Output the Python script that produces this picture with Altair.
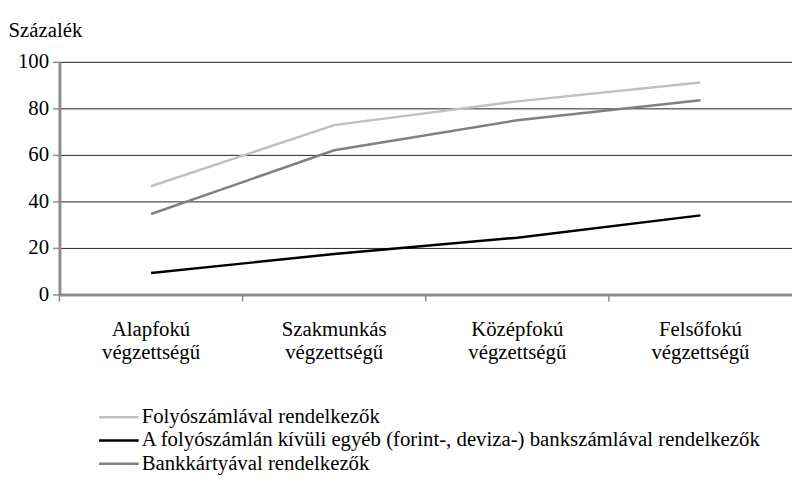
import altair as alt
import pandas as pd

categories = ["Alapfokú végzettségű", "Szakmunkás végzettségű", "Középfokú végzettségű", "Felsőfokú végzettségű"]
series = [
    "Folyószámlával rendelkezők",
    "A folyószámlán kívüli egyéb (forint-, deviza-) bankszámlával rendelkezők",
    "Bankkártyával rendelkezők",
]
folyoszamla = [46.5, 72.8, 83.0, 91.1]
egyeb = [9.2, 17.4, 24.4, 34.0]
bankkartya = [34.6, 62.0, 74.9, 83.5]
colors = ["#c0c0c0", "#000000", "#808080"]

rows = []
for s, vals in zip(series, [folyoszamla, egyeb, bankkartya]):
    for c, v in zip(categories, vals):
        rows.append({"cat": c, "series": s, "value": v})
df = pd.DataFrame(rows)
tick_df = pd.DataFrame({"cat": categories})
leg_df = pd.DataFrame({"series": series})

FONT = "Liberation Serif"
FS = 21

xscale = alt.Scale(domain=categories, paddingInner=0, paddingOuter=0)
cscale = alt.Scale(domain=series, range=colors)
legy = alt.Scale(type="point", domain=series, range=[359, 406], padding=0)

lines = alt.Chart(df).mark_line(strokeWidth=2.5).encode(
    x=alt.X("cat:N", scale=xscale, sort=categories,
            axis=alt.Axis(title=None, labelAngle=0, ticks=False, domain=True,
                          domainColor="#8c8c8c", domainWidth=3,
                          labelExpr="split(datum.label, ' ')",
                          labelPadding=24, labelLineHeight=24)),
    y=alt.Y("value:Q", scale=alt.Scale(domain=[0, 100]),
            axis=alt.Axis(values=[0, 20, 40, 60, 80, 100], title="Százalék",
                          titleAngle=0, titleAlign="left", titleBaseline="alphabetic",
                          titleX=-52, titleY=-26,
                          labelPadding=4,
                          grid=True, gridColor="#222", gridWidth=1,
                          domainColor="#8c8c8c", domainWidth=3,
                          tickColor="#8c8c8c", tickSize=7, tickWidth=1.5)),
    color=alt.Color("series:N", scale=cscale, sort=series, legend=None),
)

ticks = alt.Chart(tick_df).mark_rule(color="#8c8c8c", strokeWidth=1.5).encode(
    x=alt.X("cat:N", scale=xscale, sort=categories, bandPosition=0),
    y=alt.value(235),
    y2=alt.value(242),
)

leg_lines = alt.Chart(leg_df).mark_rule(strokeWidth=2.5).encode(
    x=alt.value(40), x2=alt.value(80),
    y=alt.Y("series:N", scale=legy, axis=None),
    color=alt.Color("series:N", scale=cscale, legend=None),
)
leg_text = alt.Chart(leg_df).mark_text(align="left", baseline="middle",
                                       font=FONT, fontSize=FS, color="#000").encode(
    x=alt.value(83),
    y=alt.Y("series:N", scale=legy, axis=None),
    text="series:N",
)

legend = alt.layer(leg_lines, leg_text)

chart = alt.layer(lines, ticks, legend).resolve_scale(y="independent").properties(
    width=740, height=235,
    autosize=alt.AutoSizeParams(type="none"),
    padding={"left": 52, "top": 52, "right": 0, "bottom": 180},
).configure(font=FONT).configure_view(stroke=None).configure_axis(
    labelFont=FONT, labelFontSize=FS, labelColor="#000",
    titleFont=FONT, titleFontSize=FS, titleFontWeight="normal", titleColor="#000",
)

chart.save("out.html", embed_options={"renderer": "svg", "actions": False})
